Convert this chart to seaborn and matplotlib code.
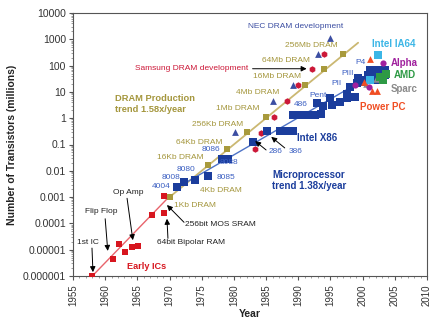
import matplotlib
matplotlib.use("Agg")
import matplotlib.pyplot as plt
import matplotlib.ticker as mticker
import seaborn as sns
import numpy as np

# ---------------- data ----------------
early_years = [1958, 1961.2, 1962.1, 1963.1, 1964.2, 1965.1, 1967.3, 1969.2, 1969.2]
early_vals = [1e-6, 4.4e-6, 1.6e-5, 8e-6, 1.25e-5, 1.4e-5, 2.1e-4, 2.5e-4, 1.1e-3]
early_trend_years = [1958, 1969.6]
early_trend_vals = [1e-6, 8.5e-4]

dram_years = [1970, 1974, 1976, 1979, 1982, 1985, 1991, 1994, 1997]
dram_vals = [0.001, 0.004, 0.016, 0.065, 0.3, 1.1, 18, 72, 270]
dram_trend_years = [1970, 1999.3]
dram_trend_vals = [0.001, 740]

samsung_years = [1983.3, 1984.2, 1986.2, 1988.2, 1990.0, 1992.1, 1994.0]
samsung_vals = [0.068, 0.28, 1.1, 4.6, 18, 72, 280]

nec_years = [1980.2, 1986.0, 1989.2, 1993.1, 1995.0]
nec_vals = [0.3, 4.6, 18, 270, 1100]

x86_years = [1971.2, 1972.2, 1974.0, 1976.0, 1978.2, 1979.1, 1983.0,
             1985.1, 1987.2, 1988.2, 1989.2,
             1989.2, 1990.5, 1991.5, 1992.6, 1993.6,
             1992.9, 1993.8, 1994.9, 1995.2, 1996.5, 1997.5, 1997.5, 1998.8,
             1998.0, 1999.1, 1999.3, 2000.0, 2000.1, 2000.9, 2001.1, 2001.7,
             2001.9, 2002.4, 2002.7, 2003.2, 2003.5, 2003.5]
x86_vals = [0.0024, 0.0037, 0.0045, 0.0065, 0.029, 0.029, 0.12,
            0.32, 0.32, 0.32, 0.32,
            1.3, 1.3, 1.3, 1.3, 1.5,
            3.7, 2.8, 5.7, 3.2, 4.2, 5.7, 8.4, 6.6,
            15.5, 22, 33, 24, 28, 44, 68, 34,
            68, 28, 68, 34, 68, 44]
micro_trend_years = [1971.2, 2000.3]
micro_trend_vals = [0.0023, 30]

ia64_years = [2002.4, 2001.2]
ia64_vals = [250, 28]
alpha_years = [1998.8, 2001.0, 2003.1]
alpha_vals = [18, 15, 123]
amd_years = [2002.7, 2003.2, 2003.7]
amd_vals = [38, 28, 50]
sparc_years = [2000.6, 2002.0]
sparc_vals = [20, 30]
ppc_years = [2000.2, 2001.1, 2001.4, 2002.2]
ppc_vals = [24, 175, 11, 11]

x_ticks = [1955, 1960, 1965, 1970, 1975, 1980, 1985, 1990, 1995, 2000, 2005, 2010]
y_ticks = [1e-6, 1e-5, 1e-4, 1e-3, 1e-2, 1e-1, 1, 10, 100, 1000, 10000]
y_tick_labels = ["0.000001", "0.00001", "0.0001", "0.001", "0.01", "0.1",
                 "1", "10", "100", "1000", "10000"]

# ---------------- style ----------------
sns.set_style("ticks")
plt.rcParams['font.family'] = ['Liberation Sans', 'DejaVu Sans']

RED = "#d7161f"
RED_LINE = "#e8646c"
OLIVE = "#a89a3c"
OLIVE_LINE = "#cbb872"
OLIVE_TXT = "#a4963c"
DBLUE = "#1b3d9c"
BLUE_LINE = "#4e73c6"
BLUE_TXT = "#3b5fc2"
SAMSUNG = "#cc1838"
NEC = "#3c4ea2"
CYAN = "#3bb6e6"
PURPLE = "#a0209e"
GREEN = "#2e9a45"
GRAY = "#8a8a8a"
ORANGE = "#f04e23"

fig = plt.figure(figsize=(4.30, 3.21), dpi=100)
ax = fig.add_axes([73/430, 1-276/321, (427-73)/430, (276-13)/321])
ax.set_yscale("log")

# trend lines
sns.lineplot(x=early_trend_years, y=early_trend_vals, ax=ax, color=RED_LINE, lw=1.0, zorder=2)
sns.lineplot(x=dram_trend_years, y=dram_trend_vals, ax=ax, color=OLIVE_LINE, lw=1.3, zorder=2)
sns.lineplot(x=micro_trend_years, y=micro_trend_vals, ax=ax, color=BLUE_LINE, lw=1.0, zorder=2)

kw = dict(ax=ax, linewidth=0, zorder=3, legend=False)
sns.scatterplot(x=early_years, y=early_vals, marker='s', color=RED, s=24, **kw)
sns.scatterplot(x=dram_years, y=dram_vals, marker='s', color=OLIVE, s=24, **kw)
sns.scatterplot(x=samsung_years, y=samsung_vals, marker='h', color=SAMSUNG, s=22, **kw)
sns.scatterplot(x=nec_years, y=nec_vals, marker='^', color=NEC, s=24, **kw)
sns.scatterplot(x=x86_years, y=x86_vals, marker='s', color=DBLUE, s=26, **kw)
sns.scatterplot(x=sparc_years, y=sparc_vals, marker='^', color=GRAY, s=22, **kw)
sns.scatterplot(x=amd_years, y=amd_vals, marker='s', color=GREEN, s=26, **kw)
sns.scatterplot(x=ia64_years, y=ia64_vals, marker='s', color=CYAN, s=26, **kw)
sns.scatterplot(x=alpha_years, y=alpha_vals, marker='o', color=PURPLE, s=20, **kw)
sns.scatterplot(x=ppc_years, y=ppc_vals, marker='^', color=ORANGE, s=24, **kw)

# axes
ax.set_xlim(1955, 2010)
ax.set_ylim(1e-6, 1e4)
ax.set_xticks(x_ticks)
ax.set_xticklabels([str(t) for t in x_ticks], rotation=90, fontsize=7, color="#333333")
ax.xaxis.set_minor_locator(mticker.MultipleLocator(1))
ax.set_yticks(y_ticks)
ax.set_yticklabels(y_tick_labels, fontsize=7.5, color="#333333")
ax.yaxis.set_minor_locator(mticker.LogLocator(base=10, subs=np.arange(2, 10), numticks=20))
ax.yaxis.set_minor_formatter(mticker.NullFormatter())
ax.tick_params(axis='both', which='major', length=3, width=0.8, color="#555555", pad=2)
ax.tick_params(axis='x', which='major', pad=3)
ax.tick_params(axis='both', which='minor', length=1.5, width=0.5, color="#777777")
for sp in ax.spines.values():
    sp.set_visible(True)
    sp.set_color("#555555")
    sp.set_linewidth(0.8)
ax.set_xlabel("Year", fontsize=7.5, fontweight='bold', color="#222222", labelpad=2)
ax.set_ylabel("Number of Transistors (millions)", fontsize=7.5, fontweight='bold',
              color="#222222", labelpad=4)

# ---------------- annotations ----------------
fs = 6.0
def txt(x, y, s, color, ha='center', size=fs, weight='normal'):
    ax.text(x, y, s, color=color, ha=ha, va='center', fontsize=size, fontweight=weight, zorder=5)

def arrow(x0, y0, x1, y1):
    ax.annotate('', xy=(x1, y1), xytext=(x0, y0),
                arrowprops=dict(arrowstyle='-|>', color='black', lw=0.7,
                                mutation_scale=8, shrinkA=0, shrinkB=0), zorder=6)

# early ICs
txt(1957.33, 1.8e-5, "1st IC", "#222222")
arrow(1957.95, 1.15e-5, 1958.1, 1.4e-6)
txt(1959.35, 2.95e-4, "Flip Flop", "#222222")
arrow(1960.0, 1.5e-4, 1960.4, 9e-6)
txt(1963.55, 1.44e-3, "Op Amp", "#222222")
arrow(1963.4, 9e-4, 1964.3, 2.3e-5)
txt(1972.4, 8.7e-5, "256bit MOS SRAM", "#222222", ha='left')
arrow(1972.25, 1.1e-4, 1969.6, 5e-4)
txt(1968.05, 1.8e-5, "64bit Bipolar RAM", "#222222", ha='left')
arrow(1969.75, 2.7e-5, 1969.6, 1.5e-4)
txt(1966.5, 2.2e-6, "Early ICs", RED, size=6.6, weight='bold')

# DRAM
txt(1970.7, 4.6e-4, "1Kb DRAM", OLIVE_TXT, ha='left')
txt(1978.0, 1.86e-3, "4Kb DRAM", OLIVE_TXT)
txt(1971.6, 0.031, "16Kb DRAM", OLIVE_TXT)
txt(1974.6, 0.124, "64Kb DRAM", OLIVE_TXT)
txt(1977.5, 0.6, "256Kb DRAM", OLIVE_TXT)
txt(1980.6, 2.44, "1Mb DRAM", OLIVE_TXT)
txt(1983.75, 9.9, "4Mb DRAM", OLIVE_TXT)
txt(1986.7, 36.9, "16Mb DRAM", OLIVE_TXT)
txt(1988.1, 163, "64Mb DRAM", OLIVE_TXT)
txt(1992.1, 607, "256Mb DRAM", OLIVE_TXT)
txt(1961.5, 3.47, "DRAM Production\ntrend 1.58x/year", OLIVE_TXT, ha='left', size=6.7, weight='bold')
txt(1989.65, 2940, "NEC DRAM development", NEC)
txt(1982.2, 81, "Samsung DRAM development", SAMSUNG, ha='right')
arrow(1982.9, 76, 1991.3, 76)

# microprocessors
txt(1968.7, 2.6e-3, "4004", BLUE_TXT)
txt(1970.2, 5.8e-3, "8008", BLUE_TXT)
txt(1972.55, 0.0117, "8080", BLUE_TXT)
txt(1978.8, 5.8e-3, "8085", BLUE_TXT)
txt(1976.45, 0.062, "8086", BLUE_TXT)
txt(1979.2, 0.0216, "8088", BLUE_TXT)
txt(1986.4, 0.056, "286", BLUE_TXT)
txt(1989.65, 0.056, "386", BLUE_TXT)
arrow(1985.0, 0.062, 1983.3, 0.135)
arrow(1987.9, 0.074, 1985.8, 0.195)
txt(1990.4, 3.18, "486", BLUE_TXT)
txt(1993.05, 7.0, "Pent", BLUE_TXT)
txt(1995.9, 20, "PII", BLUE_TXT)
txt(1997.6, 52, "PIII", BLUE_TXT)
txt(1999.6, 137, "P4", BLUE_TXT)
txt(1992.9, 0.178, "Intel X86", DBLUE, size=7, weight='bold')
txt(1985.9, 4.3e-3, "Microprocessor\ntrend 1.38x/year", DBLUE, ha='left', size=7, weight='bold')

txt(2004.8, 661, "Intel IA64", CYAN, size=7, weight='bold')
txt(2006.4, 125, "Alpha", PURPLE, size=7, weight='bold')
txt(2006.6, 44, "AMD", GREEN, size=7, weight='bold')
txt(2006.4, 13, "Sparc", GRAY, size=7, weight='bold')
txt(2003.1, 2.67, "Power PC", ORANGE, size=7, weight='bold')

fig.savefig("out.png", dpi=100)
